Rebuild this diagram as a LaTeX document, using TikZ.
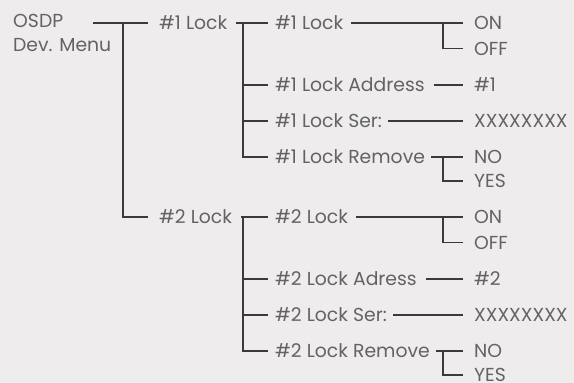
\documentclass[tikz,border=0pt]{standalone}
\usepackage{fontspec}
\setmainfont{Poppins}
\definecolor{bg}{HTML}{EEECED}
\definecolor{txt}{HTML}{636363}
\definecolor{ln}{HTML}{3A3A3A}
\tikzset{
  lbl/.style={anchor=west, inner sep=0pt, text height=13.2pt, text depth=0pt, text=txt,
    font=\fontsize{18.8}{22}\selectfont},
  conn/.style={draw=ln, line width=1.3pt},
}
\begin{document}
\begin{tikzpicture}[x=1pt,y=-1pt]
\useasboundingbox[fill=bg] (0,0) rectangle (574,383);
% root
\node[lbl] (root) at (13,20.5) {OSDP};
\node[lbl] (rootb) at (13,44.5) {Dev. Menu};
\coordinate (j0) at (93,23);
\coordinate (v0) at (123,23);
% level 1
\node[lbl] (l1) at (159,23) {\#1 Lock};
\node[lbl] (l2) at (159,217) {\#2 Lock};
\draw[conn] (j0) -- ([xshift=-11pt]l1.west);
\draw[conn] (v0) |- ([xshift=-11pt]l2.west);
% blocks
\foreach \k/\dy/\ad/\av in {1/0/Address/1, 2/194/Adress/2}{
  \coordinate (v\k) at (243,23+\dy);
  \node[lbl] (a\k) at (275,23+\dy) {\#\k{} Lock};
  \node[lbl] (b\k) at (275,85+\dy) {\#\k{} Lock \ad};
  \node[lbl] (c\k) at (275,121+\dy) {\#\k{} Lock Ser:};
  \node[lbl] (d\k) at (275,157+\dy) {\#\k{} Lock Remove};
  \node[lbl] (on\k) at (474,23+\dy) {ON};
  \node[lbl] (off\k) at (474,48.5+\dy) {OFF};
  \node[lbl] (addr\k) at (474,85+\dy) {\#\av};
  \node[lbl] (ser\k) at (474,121+\dy) {XXXXXXXX};
  \node[lbl] (no\k) at (474,157+\dy) {NO};
  \node[lbl] (yes\k) at (474,181+\dy) {YES};
  \coordinate (w\k) at (443,23+\dy);
  \coordinate (u\k) at (443,157+\dy);
  \draw[conn] ([xshift=9pt]l\k.east) -- ([xshift=-7pt]a\k.west);
  \draw[conn] (v\k) |- ([xshift=-7pt]d\k.west);
  \draw[conn] (v\k |- b\k) -- ([xshift=-7pt]b\k.west);
  \draw[conn] (v\k |- c\k) -- ([xshift=-7pt]c\k.west);
  \draw[conn] ([xshift=8pt]a\k.east) -- ([xshift=-11pt]on\k.west);
  \draw[conn] (w\k) |- ([xshift=-11pt]off\k.west);
  \draw[conn] ([xshift=9pt]b\k.east) -- ([xshift=-11pt]addr\k.west);
  \draw[conn] ([xshift=6pt]c\k.east) -- ([xshift=-11pt]ser\k.west);
  \draw[conn] ([xshift=6pt]d\k.east) -- ([xshift=-11pt]no\k.west);
  \draw[conn] (u\k) |- ([xshift=-11pt]yes\k.west);
}
\end{tikzpicture}
\end{document}
